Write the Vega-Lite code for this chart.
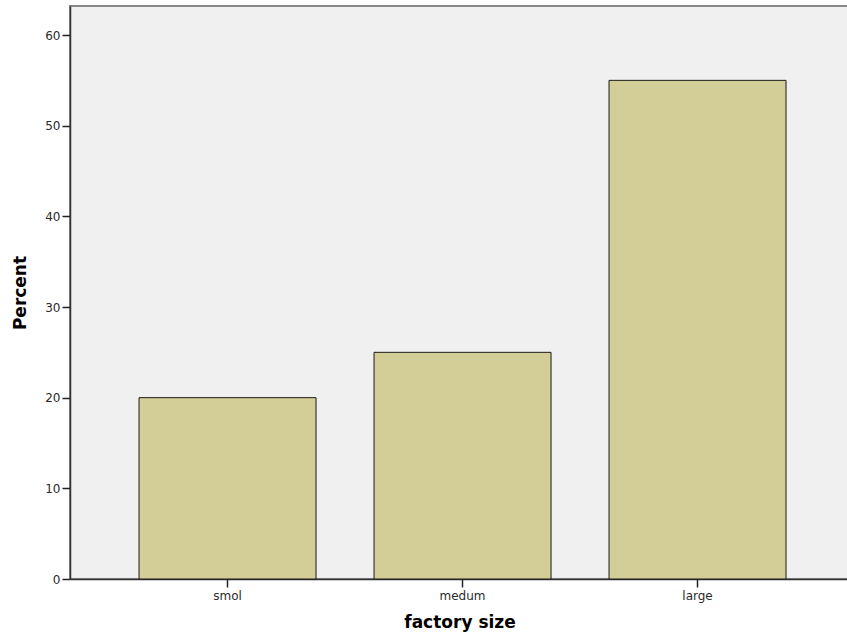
{
  "$schema": "https://vega.github.io/schema/vega-lite/v6.json",
  "width": 779,
  "height": 573,
  "autosize": {"type": "none"},
  "padding": {"left": 70, "top": 6, "right": 0, "bottom": 61},
  "background": "white",
  "config": {
    "view": {"fill": "#f0f0f0", "stroke": "#888888", "strokeWidth": 2},
    "axis": {
      "labelFont": "DejaVu Sans",
      "labelFontSize": 12,
      "labelColor": "#2a2a2a",
      "titleFont": "DejaVu Sans",
      "titleFontSize": 17,
      "titleFontWeight": "bold",
      "titleColor": "#000000",
      "domainColor": "#333333",
      "domainWidth": 1.5,
      "tickColor": "#222222",
      "tickWidth": 1.5,
      "grid": false
    }
  },
  "data": {
    "values": [
      {"size": "smol", "percent": 20},
      {"size": "medum", "percent": 25},
      {"size": "large", "percent": 55}
    ]
  },
  "mark": {"type": "bar", "fill": "#d3ce97", "stroke": "#1a1a1a", "strokeWidth": 1},
  "encoding": {
    "x": {
      "field": "size",
      "type": "nominal",
      "sort": ["smol", "medum", "large"],
      "title": "factory size",
      "scale": {"paddingInner": 0.2468, "paddingOuter": 0.2809, "align": 0.523},
      "axis": {"labelAngle": 0, "tickSize": 8, "labelPadding": 3, "titlePadding": 13}
    },
    "y": {
      "field": "percent",
      "type": "quantitative",
      "title": "Percent",
      "scale": {"domain": [0, 63.2], "nice": false},
      "axis": {"values": [0, 10, 20, 30, 40, 50, 60], "tickSize": 8, "labelPadding": 2, "titlePadding": 15}
    }
  }
}
